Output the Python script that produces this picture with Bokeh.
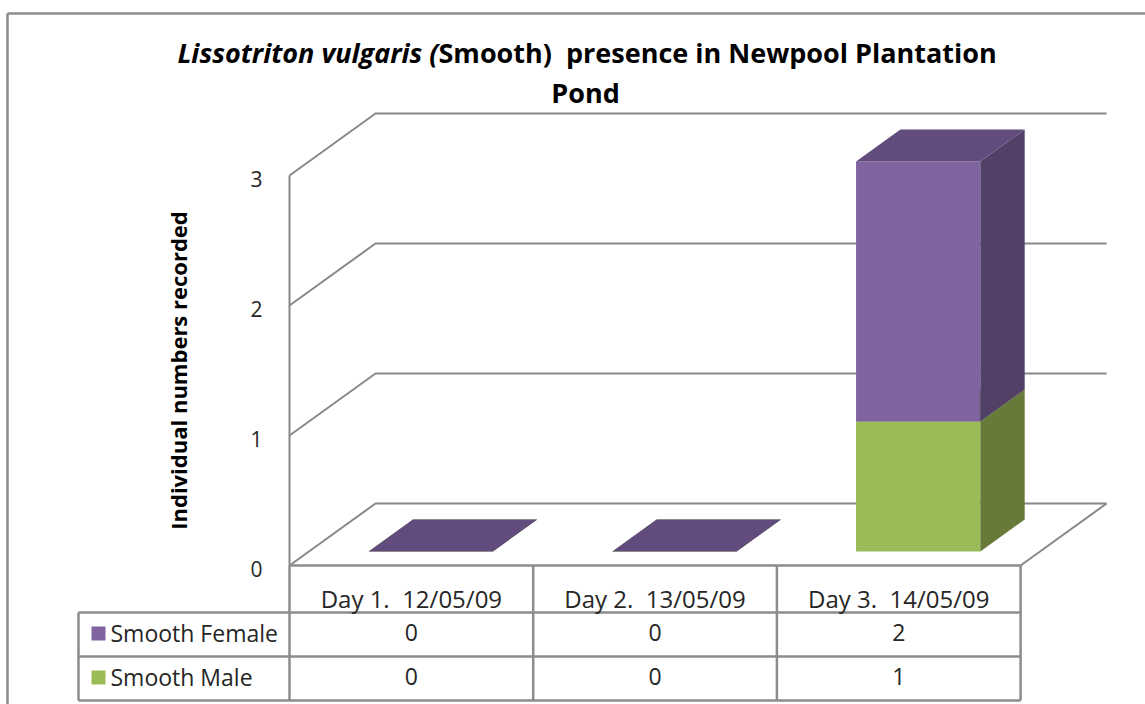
import math
from bokeh.plotting import figure
from bokeh.models import Range1d
from bokeh.embed import file_html
from bokeh.resources import INLINE
from bokeh.core.properties import value

# ---------------- data ----------------
categories = ["Day 1.\u00a0 12/05/09", "Day 2.\u00a0 13/05/09", "Day 3.\u00a0 14/05/09"]
series_names = ["Smooth Male", "Smooth Female"]          # stacking order, bottom -> top
male = [0, 0, 1]
female = [0, 0, 2]
table_rows = ["Smooth Female", "Smooth Male"]            # data-table row order
y_ticks = [0, 1, 2, 3]
title_italic = "Lissotriton vulgaris ("
title_rest = "Smooth)\u00a0 presence in Newpool Plantation"
title_line2 = "Pond"
y_title = "Individual numbers recorded"

# ---------------- layout / style ----------------
W, H = 1145, 704
X0, Y0 = 289.0, 565.0          # page px of category-axis start / value 0 (front plane)
CAT_PX, VAL_PX = 243.7, 130.0  # px per category, px per unit value
DEPTH_DX, DEPTH_DY = 86.0, 62.0
BAR_HALF = 0.255
BAR_D0, BAR_D1 = 0.226, 0.742
FONT = value("Open Sans")
GRID = "#888888"
TABLE = "#8c8c8c"
TXT = "#262626"
FIX = 10                       # baseline correction for svg text (px)
COLORS = {
    "Smooth Male": ("#9bbb59", "#677a3a", "#7d9a45"),      # front, side, top
    "Smooth Female": ("#8064a2", "#524067", "#614c7d"),
}

def sx(px):
    return (px - X0) / CAT_PX

def sy(py):
    return (Y0 - py) / VAL_PX

ddx = DEPTH_DX / CAT_PX
ddy = DEPTH_DY / VAL_PX
n = len(categories)

p = figure(width=W, height=H,
           x_range=Range1d(sx(0), sx(W)), y_range=Range1d(sy(H), sy(0)),
           x_axis_type=None, y_axis_type=None,
           toolbar_location=None, output_backend="svg",
           min_border=0, outline_line_color=None,
           background_fill_color="white", border_fill_color="white")

# chart-area border (top and left edges visible in the reference)
p.line([sx(7), sx(W + 5)], [sy(13), sy(13)], line_color=TABLE, line_width=2.5)
p.line([sx(7), sx(7)], [sy(13), sy(H + 5)], line_color=TABLE, line_width=2.5)

# ---------------- walls / gridlines ----------------
gx, gy = [], []
for v in y_ticks:
    gx.append([0, ddx, n + ddx])
    gy.append([v, v + ddy, v + ddy])
gx.append([n, n + ddx])
gy.append([0, ddy])
gx.append([0, 0])
gy.append([0, max(y_ticks)])
p.multi_line(gx, gy, line_color=GRID, line_width=2)

# tick labels
p.text(x=[sx(262)] * len(y_ticks), y=[v - (11 - FIX + 2) / VAL_PX for v in y_ticks],
       text=[str(v) for v in y_ticks], text_align="right", text_baseline="alphabetic",
       text_font=FONT, text_font_size="21px", text_color=TXT)

# axis title
p.text(x=[sx(187 - FIX)], y=[sy(370)], text=[y_title], angle=math.pi / 2,
       text_align="center", text_baseline="alphabetic", text_font=FONT,
       text_font_size="22px", text_font_style="bold", text_color="black")

# ---------------- 3D stacked bars ----------------
values = {"Smooth Male": male, "Smooth Female": female}
base = [0] * n
for name in series_names:
    vals = values[name]
    front, side, top = COLORS[name]
    L, R, B, T = [], [], [], []
    sxs, sys_, txs, tys = [], [], [], []
    for i in range(n):
        c = i + 0.5
        b = base[i]
        t = base[i] + vals[i]
        l0 = c - BAR_HALF + BAR_D0 * ddx
        r0 = c + BAR_HALF + BAR_D0 * ddx
        r1 = c + BAR_HALF + BAR_D1 * ddx
        l1 = c - BAR_HALF + BAR_D1 * ddx
        L.append(l0); R.append(r0); B.append(b + BAR_D0 * ddy); T.append(t + BAR_D0 * ddy)
        sxs.append([r0, r1, r1, r0])
        sys_.append([b + BAR_D0 * ddy, b + BAR_D1 * ddy, t + BAR_D1 * ddy, t + BAR_D0 * ddy])
        txs.append([l0, r0, r1, l1])
        tys.append([t + BAR_D0 * ddy, t + BAR_D0 * ddy, t + BAR_D1 * ddy, t + BAR_D1 * ddy])
        base[i] = t
    p.quad(left=L, right=R, bottom=B, top=T, fill_color=front, line_color=None)
    p.patches(sxs, sys_, fill_color=side, line_color=None)
    p.patches(txs, tys, fill_color=top, line_color=None)

# ---------------- data table ----------------
TL = sx(78)
row_lines = [sy(612), sy(656), sy(700)]
tx, ty = [], []
tx.append([0, n]); ty.append([0, 0])
for yl in row_lines:
    tx.append([TL, n]); ty.append([yl, yl])
for i in range(n + 1):
    tx.append([i, i]); ty.append([0, row_lines[-1]])
tx.append([TL, TL]); ty.append([row_lines[0], row_lines[-1]])
p.multi_line(tx, ty, line_color=TABLE, line_width=2.5)

p.text(x=[i + 0.5 for i in range(n)], y=[sy(608 - FIX)] * n, text=categories,
       text_align="center", text_baseline="alphabetic", text_font=FONT,
       text_font_size="24px", text_color=TXT)

row_vals = {"Smooth Female": female, "Smooth Male": male}
row_mid = [(row_lines[0] + row_lines[1]) / 2, (row_lines[1] + row_lines[2]) / 2]
for rname, yc in zip(table_rows, row_mid):
    yb = yc - (8 - FIX) / VAL_PX
    p.text(x=[i + 0.5 for i in range(n)], y=[yb] * n,
           text=[str(v) for v in row_vals[rname]], text_align="center",
           text_baseline="alphabetic", text_font=FONT, text_font_size="23px", text_color=TXT)
    p.scatter(x=[sx(98)], y=[yc + 1 / VAL_PX], marker="square", size=14,
              fill_color=COLORS[rname][0], line_color=None)
    p.text(x=[sx(110)], y=[yb], text=[rname], text_align="left", text_baseline="alphabetic",
           text_font=FONT, text_font_size="23px", text_color=TXT)

# ---------------- title ----------------
SPLIT = 438
p.text(x=[sx(SPLIT)], y=[sy(63 - 11)], text=[title_italic], text_align="right",
       text_baseline="alphabetic", text_font=FONT, text_font_size="27px",
       text_font_style="bold italic", text_color="black")
p.text(x=[sx(SPLIT)], y=[sy(63 - 11)], text=[title_rest], text_align="left",
       text_baseline="alphabetic", text_font=FONT, text_font_size="27px",
       text_font_style="bold", text_color="black")
p.text(x=[sx(585)], y=[sy(101 - 9)], text=[title_line2], text_align="center",
       text_baseline="alphabetic", text_font=FONT, text_font_size="27px",
       text_font_style="bold", text_color="black")

open("out.html", "w").write(file_html(p, INLINE))
